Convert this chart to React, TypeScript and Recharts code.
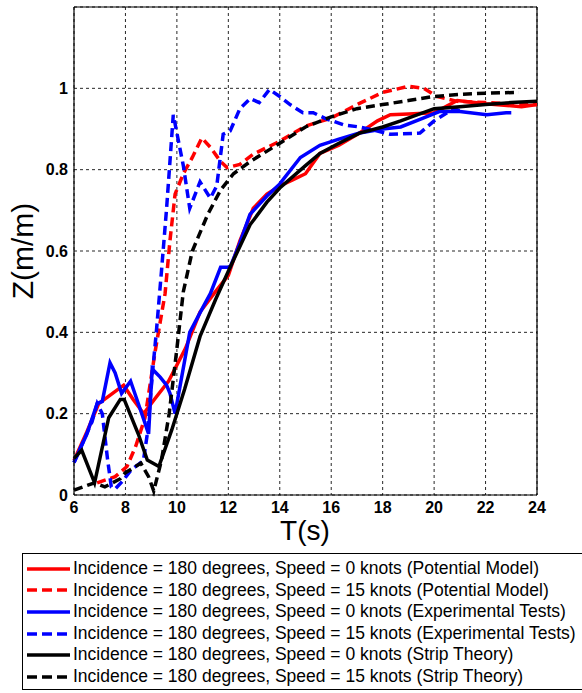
import { LineChart, Line, XAxis, YAxis, CartesianGrid, ReferenceLine } from "recharts";

const X_TICKS = [6, 8, 10, 12, 14, 16, 18, 20, 22, 24];
const Y_TICKS = [0, 0.2, 0.4, 0.6, 0.8, 1];

// Potential model, 0 knots
const potential0T = [6, 6.5, 6.96, 7.5, 7.93, 8.3, 8.71, 9.16, 9.68, 10.33, 10.9, 11.5, 12.0, 12.45, 12.97, 13.5, 14, 14.5, 15, 15.56, 16.3, 17.1, 17.8, 18.3, 19, 20, 20.9, 22, 23.4, 24];
const potential0Z = [0.085, 0.155, 0.225, 0.25, 0.27, 0.235, 0.2, 0.238, 0.28, 0.36, 0.45, 0.5, 0.54, 0.625, 0.705, 0.74, 0.76, 0.775, 0.79, 0.84, 0.86, 0.89, 0.92, 0.935, 0.937, 0.94, 0.97, 0.962, 0.955, 0.96];

// Potential model, 15 knots
const potential15T = [6.9, 7.6, 8.06, 8.4, 8.76, 9.16, 9.54, 9.73, 9.93, 10.25, 10.6, 10.97, 11.3, 11.7, 11.95, 12.45, 12.97, 14, 15, 16, 17.1, 18, 19, 19.6, 20.1, 20.9, 22, 23, 24];
const potential15Z = [0.03, 0.045, 0.07, 0.12, 0.19, 0.355, 0.495, 0.625, 0.74, 0.79, 0.83, 0.878, 0.855, 0.82, 0.805, 0.813, 0.838, 0.87, 0.907, 0.927, 0.963, 0.99, 1.005, 1.0, 0.98, 0.968, 0.965, 0.962, 0.96];

// Experimental tests, 0 knots
const experiment0T = [6, 6.5, 6.9, 7.1, 7.4, 7.6, 7.85, 8.2, 8.5, 8.9, 9.04, 9.35, 9.6, 9.73, 9.93, 10.5, 11.0, 11.3, 11.7, 12.07, 12.45, 12.84, 13.5, 14, 14.8, 15.56, 16.3, 17.1, 18, 18.7, 19.5, 20.2, 21, 22.05, 22.8, 23];
const experiment0Z = [0.08, 0.15, 0.225, 0.23, 0.325, 0.3, 0.25, 0.28, 0.225, 0.15, 0.31, 0.29, 0.27, 0.25, 0.2, 0.4, 0.46, 0.495, 0.56, 0.56, 0.62, 0.69, 0.735, 0.765, 0.83, 0.86, 0.875, 0.89, 0.9, 0.905, 0.925, 0.943, 0.943, 0.935, 0.94, 0.94];

// Experimental tests, 15 knots
const experiment15T = [6, 6.7, 6.9, 7.1, 7.3, 7.45, 7.6, 7.9, 8.2, 8.5, 8.7, 8.85, 9.05, 9.2, 9.4, 9.6, 9.86, 10.25, 10.5, 10.9, 11.3, 11.55, 11.8, 12.07, 12.45, 12.85, 13.2, 13.6, 14, 14.4, 14.9, 15.3, 15.8, 16.5, 17.1, 17.8, 18.3, 19.45, 20, 20.75, 21];
const experiment15Z = [0.08, 0.18, 0.225, 0.2, 0.09, 0.02, 0.015, 0.035, 0.06, 0.075, 0.085, 0.15, 0.3, 0.4, 0.55, 0.705, 0.935, 0.81, 0.705, 0.77, 0.73, 0.76, 0.887, 0.895, 0.95, 0.975, 0.965, 0.997, 0.98, 0.96, 0.94, 0.94, 0.925, 0.91, 0.905, 0.895, 0.887, 0.89, 0.92, 0.95, 0.945];

// Strip theory, 0 knots
const strip0T = [6, 6.3, 6.8, 7.35, 7.8, 7.95, 8.5, 8.85, 9.3, 9.8, 10.3, 10.9, 11.5, 12.07, 12.85, 13.5, 14, 15, 15.56, 16.3, 17.1, 18, 18.7, 20, 21, 22, 23, 24];
const strip0Z = [0.09, 0.11, 0.03, 0.19, 0.235, 0.235, 0.15, 0.086, 0.07, 0.16, 0.26, 0.39, 0.48, 0.56, 0.665, 0.72, 0.755, 0.81, 0.84, 0.865, 0.89, 0.905, 0.92, 0.95, 0.955, 0.96, 0.965, 0.968];

// Strip theory, 15 knots
const strip15T = [6, 6.8, 7.2, 7.8, 8.0, 8.6, 8.9, 9.1, 9.4, 9.7, 10.0, 10.25, 10.6, 11.2, 11.7, 12.2, 12.85, 14, 15, 16, 17, 18, 19, 20, 21, 22, 23.3];
const strip15Z = [0.012, 0.03, 0.02, 0.04, 0.055, 0.078, 0.045, 0.01, 0.085, 0.2, 0.36, 0.5, 0.6, 0.69, 0.75, 0.79, 0.82, 0.865, 0.905, 0.93, 0.95, 0.96, 0.97, 0.98, 0.985, 0.988, 0.99];

const zip = (t: number[], z: number[]) => t.map((v, i) => ({ t: v, z: z[i] }));

const SERIES = [
  { name: "Incidence = 180 degrees, Speed = 0 knots (Potential Model)", color: "#ff0000", dashed: false, data: zip(potential0T, potential0Z) },
  { name: "Incidence = 180 degrees, Speed = 15 knots (Potential Model)", color: "#ff0000", dashed: true, data: zip(potential15T, potential15Z) },
  { name: "Incidence = 180 degrees, Speed = 0 knots (Experimental Tests)", color: "#0000ff", dashed: false, data: zip(experiment0T, experiment0Z) },
  { name: "Incidence = 180 degrees, Speed = 15 knots (Experimental Tests)", color: "#0000ff", dashed: true, data: zip(experiment15T, experiment15Z) },
  { name: "Incidence = 180 degrees, Speed = 0 knots (Strip Theory)", color: "#000000", dashed: false, data: zip(strip0T, strip0Z) },
  { name: "Incidence = 180 degrees, Speed = 15 knots (Strip Theory)", color: "#000000", dashed: true, data: zip(strip15T, strip15Z) },
];

const FONT = "'Liberation Sans', Arial, sans-serif";
const DASH = "9 5";

function YTitle() {
  return (
    <text x={22} y={251} transform="rotate(-90 22 251)" textAnchor="middle" dy="0.35em"
      fontSize={30} fontFamily={FONT} fill="#000">
      Z(m/m)
    </text>
  );
}

function XTitle() {
  return (
    <text x={305} y={540} textAnchor="middle" fontSize={28} fontFamily={FONT} fill="#000">
      T(s)
    </text>
  );
}

function LegendBox() {
  return (
    <div style={{
      position: "absolute", left: 22, top: 553, width: 600, height: 137,
      border: "1px solid #000", paddingTop: 4, boxSizing: "border-box", background: "#fff",
    }}>
      {SERIES.map((s) => (
        <div key={s.name} style={{ display: "flex", alignItems: "center", height: 21.6 }}>
          <svg width={43} height={6} style={{ marginLeft: 4, flex: "none" }}>
            <line x1={0} y1={3} x2={43} y2={3} stroke={s.color} strokeWidth={3.5}
              strokeDasharray={s.dashed ? "10 5" : undefined} />
          </svg>
          <span style={{ marginLeft: 3, fontFamily: FONT, fontSize: 17.5, lineHeight: 1, color: "#000", whiteSpace: "nowrap" }}>
            {s.name}
          </span>
        </div>
      ))}
    </div>
  );
}

export default function App() {
  return (
    <div style={{ position: "absolute", left: 0, top: 0, width: 582, height: 693, overflow: "hidden", background: "#fff" }}>
      <LineChart width={582} height={553} margin={{ top: 7, right: 45, bottom: 0, left: 0 }}>
        <CartesianGrid stroke="#000" strokeOpacity={0.85} strokeDasharray="3 3" />
        <XAxis
          dataKey="t"
          type="number"
          domain={[6, 24]}
          ticks={X_TICKS}
          interval={0}
          height={58}
          tickSize={0}
          tickMargin={7}
          axisLine={{ stroke: "#000", strokeWidth: 1.2 }}
          tick={{ fill: "#000", fontSize: 16, fontWeight: "bold", fontFamily: FONT }}
          label={XTitle}
        />
        <YAxis
          type="number"
          domain={[0, 1.2]}
          ticks={Y_TICKS}
          interval={0}
          width={74}
          tickSize={0}
          tickMargin={6}
          axisLine={{ stroke: "#000", strokeWidth: 1.2 }}
          tick={{ fill: "#000", fontSize: 16, fontWeight: "bold", fontFamily: FONT }}
          label={YTitle}
        />
        <ReferenceLine y={1.2} stroke="#000" strokeWidth={1.2} />
        <ReferenceLine x={24} stroke="#000" strokeWidth={1.2} />
        {SERIES.map((s) => (
          <Line
            key={s.name}
            data={s.data}
            dataKey="z"
            type="linear"
            stroke={s.color}
            strokeWidth={3.5}
            strokeDasharray={s.dashed ? DASH : undefined}
            dot={false}
            activeDot={false}
            isAnimationActive={false}
          />
        ))}
      </LineChart>
      <LegendBox />
    </div>
  );
}
